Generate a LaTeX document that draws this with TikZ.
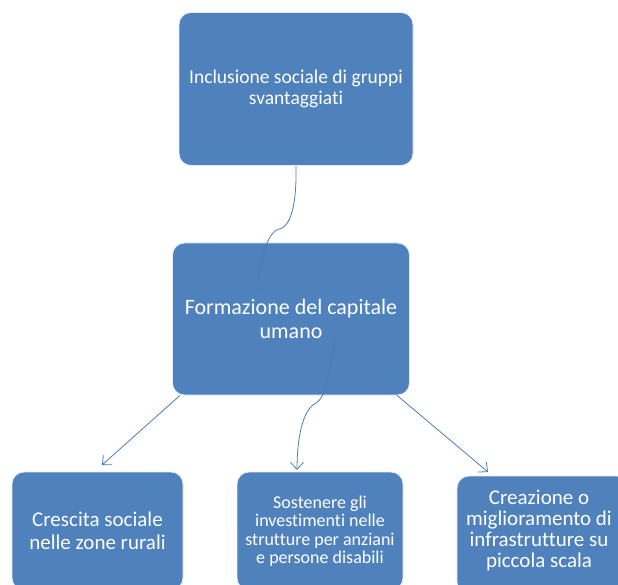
\documentclass[tikz,border=0pt]{standalone}
\usepackage{fontspec}
\setmainfont{Carlito}[Ligatures={NoCommon}]
\usetikzlibrary{arrows.meta}
\definecolor{boxblue}{HTML}{4F81BD}
\definecolor{lineblue}{HTML}{4A7EBB}
\tikzset{
  box/.style={draw=white!85!boxblue, line width=0.8pt, fill=boxblue, rounded corners=12pt,
    text=white, align=center, inner sep=0pt},
  conn/.style={draw=lineblue, line width=0.8pt, -{Straight Barb[length=7pt,width=13pt]}},
}
\begin{document}
\begin{tikzpicture}[x=1pt,y=1pt]
\useasboundingbox (0,0) rectangle (618,-585);
\begin{scope}
\clip (0,0) rectangle (618,-585);
% boxes
\node[box, minimum width=234pt, minimum height=153pt, font=\fontsize{19.5}{20.5}\selectfont] (top) at (296,-89)
  {Inclusione sociale di gruppi\\svantaggiati};
\node[box, minimum width=237pt, minimum height=152pt, font=\fontsize{22}{24}\selectfont] (mid) at (291,-319)
  {Formazione del capitale\\umano};
\node[box, minimum width=171pt, minimum height=118pt, font=\fontsize{21}{22.5}\selectfont] (bl) at (97.5,-531)
  {Crescita sociale\\nelle zone rurali};
\node[box, minimum width=166pt, minimum height=118pt, font=\fontsize{18}{18.5}\selectfont] (bm) at (320,-531)
  {Sostenere gli\\investimenti nelle\\strutture per anziani\\e persone disabili};
\node[box, minimum width=172pt, minimum height=118pt] (br) at (543,-535) {};
\node[text=white, align=center, font=\fontsize{21}{21}\selectfont] (brt) at (539,-530)
  {Creazione o\\miglioramento di\\infrastrutture su\\piccola scala};
\end{scope}
% connectors
\coordinate (c1) at (257,-292);
\coordinate (c2s) at (335,-338);
\coordinate (c2e) at (297,-470);
\coordinate (c3) at (102,-465);
\coordinate (c4) at (488,-472);
\draw[conn] (top.south -| 296,0) .. controls (297,-215) and (287,-228) .. (279,-229)
  .. controls (270,-231) and (261,-250) .. (c1);
\draw[conn] (c2s) .. controls (330,-370) and (326,-398) .. (316,-403)
  .. controls (302,-410) and (297,-440) .. (c2e);
\draw[conn] (mid.south -| 180,0) -- (c3);
\draw[conn] (mid.south -| 397,0) -- (c4);
\end{tikzpicture}
\end{document}
